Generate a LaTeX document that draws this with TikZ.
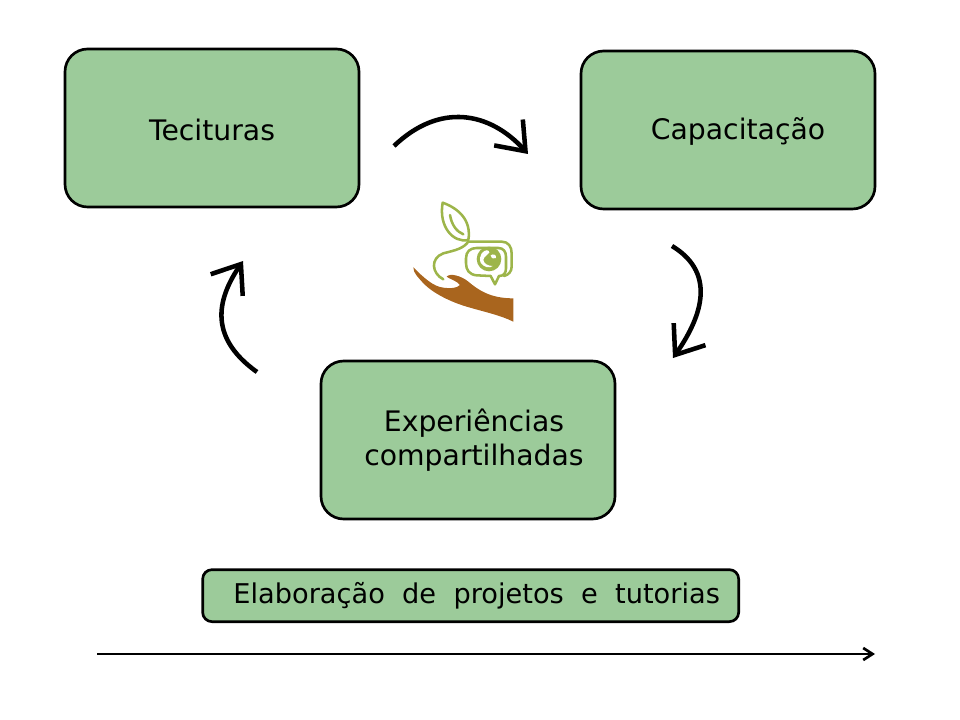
\documentclass[tikz,border=0pt]{standalone}
\usepackage{fontspec}
\setmainfont{DejaVu Sans}
\usetikzlibrary{arrows.meta, positioning}
\definecolor{boxgreen}{HTML}{9CCB9A}
\definecolor{leafgreen}{HTML}{9DB54A}
\definecolor{handbrown}{HTML}{A9651E}

\begin{document}
\begin{tikzpicture}[x=0.75pt,y=-0.75pt,
    every node/.style={align=center, font=\fontsize{21.2}{26}\selectfont},
    box/.style={draw, line width=2pt, fill=boxgreen, rounded corners=17pt, minimum width=220.5pt, minimum height=118.5pt},
    barbed/.style={line width=3.4pt, -{Straight Barb[length=19pt,width=29pt,line width=3.4pt]}},
    plant/.style={draw=leafgreen, line width=1.9pt, line join=round, line cap=round}
    ]
    \useasboundingbox (0,0) rectangle (960,720);

    \node (tecituras) [box, text height=18.8pt, text depth=0pt] at (212,128) {Tecituras};
    \node (capacitacao) [box, text height=19.2pt, text depth=5pt, right=164.5pt of tecituras, yshift=-1.5pt] {\kern15pt Capacitação};
    \node (experiencias) [box, below right=113.5pt and -30.5pt of tecituras] {\kern9pt Experiências\\ \kern9pt compartilhadas};
    \node (elaboracao) [box, rounded corners=7pt, minimum width=402pt, minimum height=39pt, text height=17pt, text depth=4.8pt, below=36pt of experiencias, xshift=2pt, font=\fontsize{20.4}{24}\selectfont] {\kern9pt Elaboração\ \ de\ \ projetos\ \ e\ \ tutorias};

    \coordinate (arcA) at (394,146);
    \coordinate (arcB) at (528,154);
    \coordinate (arcC) at (672,246);
    \coordinate (arcD) at (673,358);
    \coordinate (arcE) at (257,372);
    \coordinate (arcF) at (243,261);
    \coordinate (lineA) at (97,654);
    \coordinate (lineB) at (875,654);

    \draw [barbed] (arcA) .. controls (440,102) and (490,112) .. (arcB);
    \draw [barbed] (arcC) .. controls (720,275) and (698,322) .. (arcD);
    \draw [barbed] (arcE) .. controls (205,335) and (220,295) .. (arcF);
    \draw [line width=2pt, -{Straight Barb[length=7pt,width=9pt,line width=2pt]}] (lineA) -- (lineB);

    % logo
    \begin{scope}[shift={(400,190)},x=0.25pt,y=-0.25pt]
        \fill [handbrown] (40,232) .. controls (70,262) and (100,290) .. (130,293)
            .. controls (150,296) and (170,295) .. (180,285)
            .. controls (170,272) and (150,268) .. (140,260)
            .. controls (150,248) and (185,258) .. (205,275)
            .. controls (235,300) and (270,325) .. (340,325)
            -- (340,395) .. controls (300,375) and (250,365) .. (200,350)
            .. controls (150,335) and (100,310) .. (70,280)
            .. controls (55,262) and (40,250) .. (40,232) -- cycle;
        \draw [plant] (128,38) .. controls (175,55) and (215,90) .. (205,150)
            .. controls (160,160) and (115,110) .. (128,38) -- cycle;
        \draw [plant] (150,75) .. controls (155,105) and (170,125) .. (190,133);
        % stem and outer line
        \draw [plant] (130,268) .. controls (95,250) and (90,205) .. (130,190)
            .. controls (170,180) and (190,175) .. (205,155)
            -- (305,155) .. controls (325,155) and (335,170) .. (335,190)
            -- (335,230) .. controls (335,245) and (325,255) .. (312,258);
        % speech bubble
        \draw [plant] (230,174) -- (295,174) .. controls (310,174) and (318,185) .. (318,200)
            -- (318,235) .. controls (318,250) and (310,258) .. (297,258)
            -- (285,283) -- (272,258) -- (230,256)
            .. controls (208,254) and (198,240) .. (198,220) -- (198,205)
            .. controls (198,185) and (210,174) .. (230,174) -- cycle;
        % globe
        \fill [leafgreen] (267,207) circle (37);
        \fill [white] (245,190) .. controls (255,178) and (268,178) .. (268,188)
            .. controls (262,198) and (252,198) .. (250,210)
            .. controls (252,222) and (265,228) .. (278,228)
            .. controls (270,236) and (250,232) .. (242,218)
            .. controls (238,208) and (240,198) .. (245,190) -- cycle;
        \fill [white] (272,196) .. controls (280,190) and (290,195) .. (288,204)
            .. controls (282,208) and (274,206) .. (272,196) -- cycle;
    \end{scope}
\end{tikzpicture}
\end{document}
